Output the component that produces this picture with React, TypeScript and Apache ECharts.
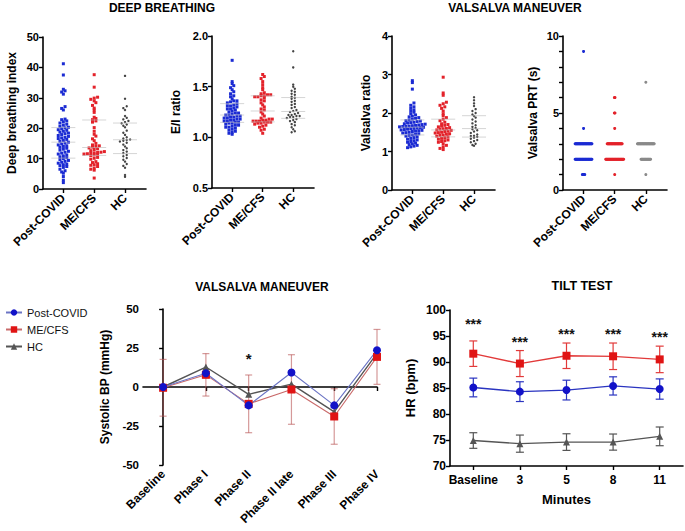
import React, { useEffect, useRef } from 'react';
import * as echarts from 'echarts';

const FONT = '"Liberation Sans", Arial, Helvetica, sans-serif';

// ---------- data ----------
const groups = ['Post-COVID', 'ME/CFS', 'HC'];

// Deep breathing index
const dbPost = [41.2, 37.5, 32.8, 32.3, 31.9, 31.2, 27.1, 26.5, 26.0, 23.0, 22.8, 22.4, 22.1, 21.7, 21.3, 21.0, 20.6, 20.3, 20.1, 19.8, 19.5, 19.3, 19.0, 18.7, 18.4, 18.2, 17.9, 17.6, 17.3, 17.0, 16.8, 16.6, 16.3, 16.0, 15.7, 15.4, 15.1, 14.8, 14.5, 14.2, 14.0, 13.7, 13.4, 13.1, 12.8, 12.4, 12.1, 11.8, 11.5, 11.2, 10.9, 10.6, 10.3, 10.0, 9.7, 9.4, 9.1, 8.8, 8.5, 8.2, 8.0, 7.7, 7.4, 7.1, 6.5, 6.0, 5.6, 5.2, 4.1, 2.9, 2.1];
const dbMe = [37.6, 33.5, 30.2, 29.9, 29.5, 29.0, 28.4, 27.5, 26.6, 26.0, 25.2, 23.6, 23.2, 22.8, 22.4, 22.0, 20.2, 19.0, 18.0, 17.4, 16.5, 15.9, 15.0, 14.5, 14.2, 14.0, 13.8, 13.5, 13.2, 13.0, 12.6, 12.3, 12.1, 12.0, 11.9, 11.8, 11.6, 11.5, 11.4, 11.2, 11.0, 10.4, 10.1, 9.8, 9.0, 8.7, 8.3, 8.0, 7.8, 7.4, 6.9, 6.5, 6.2, 3.6];
const dbHc = [37.2, 29.7, 27.2, 26.6, 26.0, 24.0, 23.4, 22.9, 22.4, 22.0, 21.6, 21.2, 20.8, 20.3, 19.2, 18.5, 17.8, 17.0, 16.6, 16.3, 16.1, 15.9, 15.6, 15.2, 14.6, 14.0, 13.4, 12.8, 12.3, 11.8, 11.2, 10.8, 10.2, 9.6, 9.0, 8.2, 7.6, 7.0, 4.6, 4.0];

// E/I ratio
const eiPost = [1.76, 1.55, 1.53, 1.51, 1.49, 1.47, 1.45, 1.43, 1.41, 1.40, 1.38, 1.36, 1.36, 1.35, 1.34, 1.33, 1.32, 1.31, 1.31, 1.30, 1.29, 1.28, 1.28, 1.27, 1.26, 1.25, 1.24, 1.24, 1.23, 1.22, 1.22, 1.21, 1.21, 1.20, 1.20, 1.19, 1.19, 1.18, 1.18, 1.17, 1.17, 1.16, 1.16, 1.15, 1.15, 1.14, 1.14, 1.13, 1.12, 1.12, 1.11, 1.10, 1.10, 1.09, 1.08, 1.07, 1.06, 1.05, 1.04, 1.03];
const eiMe = [1.62, 1.60, 1.58, 1.55, 1.52, 1.49, 1.47, 1.44, 1.43, 1.42, 1.42, 1.41, 1.41, 1.40, 1.40, 1.39, 1.37, 1.36, 1.34, 1.32, 1.30, 1.28, 1.27, 1.25, 1.23, 1.21, 1.19, 1.18, 1.18, 1.17, 1.17, 1.16, 1.16, 1.16, 1.15, 1.15, 1.15, 1.14, 1.14, 1.13, 1.12, 1.11, 1.10, 1.08, 1.07, 1.04];
const eiHc = [1.85, 1.69, 1.52, 1.50, 1.48, 1.46, 1.45, 1.43, 1.42, 1.40, 1.39, 1.38, 1.36, 1.35, 1.33, 1.32, 1.30, 1.29, 1.27, 1.26, 1.25, 1.24, 1.23, 1.22, 1.22, 1.21, 1.21, 1.20, 1.20, 1.19, 1.18, 1.17, 1.16, 1.15, 1.13, 1.12, 1.10, 1.08, 1.06, 1.05];

// Valsalva ratio
const vrPost = [2.84, 2.79, 2.62, 2.26, 2.20, 2.16, 2.12, 2.08, 2.05, 2.02, 1.98, 1.95, 1.92, 1.90, 1.88, 1.86, 1.84, 1.82, 1.80, 1.79, 1.78, 1.76, 1.75, 1.74, 1.72, 1.71, 1.70, 1.69, 1.68, 1.67, 1.66, 1.65, 1.65, 1.64, 1.63, 1.62, 1.61, 1.60, 1.59, 1.58, 1.57, 1.56, 1.55, 1.54, 1.53, 1.52, 1.50, 1.49, 1.48, 1.46, 1.45, 1.43, 1.42, 1.40, 1.38, 1.36, 1.34, 1.32, 1.30, 1.28, 1.26, 1.24, 1.22, 1.20, 1.18, 1.16, 1.14, 1.12, 1.10];
const vrMe = [2.93, 2.52, 2.46, 2.28, 2.24, 2.20, 2.16, 2.12, 2.05, 1.98, 1.93, 1.88, 1.84, 1.80, 1.76, 1.72, 1.70, 1.68, 1.66, 1.64, 1.62, 1.60, 1.59, 1.58, 1.56, 1.55, 1.53, 1.52, 1.50, 1.49, 1.48, 1.46, 1.45, 1.43, 1.42, 1.40, 1.38, 1.36, 1.34, 1.32, 1.30, 1.28, 1.26, 1.24, 1.20, 1.16, 1.12, 1.08, 1.05];
const vrHc = [2.41, 2.33, 2.25, 2.18, 2.10, 2.05, 2.00, 1.96, 1.92, 1.88, 1.83, 1.78, 1.73, 1.68, 1.64, 1.61, 1.58, 1.55, 1.52, 1.48, 1.44, 1.41, 1.40, 1.38, 1.36, 1.33, 1.30, 1.27, 1.24, 1.20, 1.17, 1.15];

// Valsalva PRT (s): frequency of each integer value
const prtLevels = [1, 2, 3, 4, 5, 6, 7, 8, 9];
const prtPostCounts = [5, 29, 29, 1, 0, 0, 0, 0, 1];
const prtMeCounts = [1, 31, 26, 1, 2, 2, 0, 0, 0];
const prtHcCounts = [1, 17, 29, 0, 0, 0, 1, 0, 0];

// Valsalva maneuver systolic BP (mmHg)
const bpPhases = ['Baseline', 'Phase I', 'Phase II', 'Phase II late', 'Phase III', 'Phase IV'];
const bpPost = [0, 8.8, -11.8, 9.3, -11.8, 23.6];
const bpMe = [-0.5, 7.8, -10.8, -1.6, -18.9, 19.3];
const bpHc = [0, 12.8, -4.7, 1.8, -16.0, 21.5];
const bpMeSd = [18.2, 13.6, 18.5, 22.3, 17.8, 17.6];
const bpStarPhase = [2];
const bpStarLevel = [20.4];

// Tilt test HR (bpm)
const tiltMinutes = ['Baseline', '3', '5', '8', '11'];
const tiltPost = [85.1, 84.3, 84.6, 85.4, 84.8];
const tiltPostErr = [1.8, 1.9, 1.9, 1.75, 1.95];
const tiltMe = [91.6, 89.7, 91.2, 91.1, 90.5];
const tiltMeErr = [2.45, 2.5, 2.45, 2.55, 2.55];
const tiltHc = [74.9, 74.3, 74.6, 74.6, 75.7];
const tiltHcErr = [1.5, 1.65, 1.6, 1.55, 1.8];
const tiltStarLevel = [97.8, 94.4, 96.0, 96.0, 95.3];

// ---------- helpers ----------
const BLUE = '#1b2bd3';
const RED = '#e3222a';
const HCDOT = '#444444';
const HCPRT = '#8a8a8a';

function expandCounts(levels: number[], counts: number[]) {
  const out: number[] = [];
  levels.forEach((l, i) => {
    for (let k = 0; k < counts[i]; k++) out.push(l);
  });
  return out;
}

function swarm(values: number[], center: number, bin: number, stepUnits: number) {
  const rows = new Map<number, number[]>();
  [...values].sort((a, b) => a - b).forEach((v) => {
    const k = Math.round(v / bin);
    if (!rows.has(k)) rows.set(k, []);
    rows.get(k)!.push(v);
  });
  const out: number[][] = [];
  rows.forEach((vals) => {
    const n = vals.length;
    vals.forEach((v, i) => out.push([center + (i - (n - 1) / 2) * stepUnits, v]));
  });
  return out;
}

function quantile(values: number[], p: number) {
  const s = [...values].sort((a, b) => a - b);
  const pos = (s.length - 1) * p;
  const lo = Math.floor(pos);
  const hi = Math.ceil(pos);
  return s[lo] + (s[hi] - s[lo]) * (pos - lo);
}

const XMIN = 0.34;
const XMAX = 3.68;

const axisLine = { show: true, lineStyle: { color: '#000', width: 1.6 } };
const tickStyle = { color: '#000', width: 1.4 };

export default function App() {
  const ref = useRef<HTMLDivElement>(null);

  useEffect(() => {
    if (!ref.current) return;
    const chart = echarts.init(ref.current, undefined, { renderer: 'svg' });

    const topPanels = [
      { left: 43, top: 37, width: 103, height: 152, min: 0, max: 50, interval: 10, name: 'Deep breathing index', nameGap: 25, data: [dbPost, dbMe, dbHc], bin: 1, step: 3.4, lines: true, fmt: (v: number) => String(v) },
      { left: 212, top: 36, width: 102, height: 152, min: 0.5, max: 2.0, interval: 0.5, name: 'E/I ratio', nameGap: 30, data: [eiPost, eiMe, eiHc], bin: 0.03, step: 3.2, lines: true, fmt: (v: number) => v.toFixed(1) },
      { left: 392, top: 36, width: 103, height: 154, min: 0, max: 4, interval: 1, name: 'Valsalva ratio', nameGap: 20, data: [vrPost, vrMe, vrHc], bin: 0.08, step: 3.2, lines: true, fmt: (v: number) => String(v) },
      { left: 563, top: 36, width: 104, height: 154, min: 0, max: 10, interval: 1, name: 'Valsalva PRT (s)', nameGap: 24, data: [expandCounts(prtLevels, prtPostCounts), expandCounts(prtLevels, prtMeCounts), expandCounts(prtLevels, prtHcCounts)], bin: 1, step: 0.6, lines: false, fmt: (v: number) => (v % 5 === 0 ? String(v) : '') },
    ];

    const grids: any[] = topPanels.map((p) => ({ left: p.left, top: p.top, width: p.width, height: p.height, containLabel: false }));
    grids.push({ left: 143, top: 309, width: 234, height: 156, containLabel: false });
    grids.push({ left: 450, top: 310, width: 233, height: 156, containLabel: false });

    const groupTicks = groups.map((_, i) => i + 1);
    const xAxes: any[] = topPanels.map((_, pi) => ({
      type: 'value', gridIndex: pi, min: XMIN, max: XMAX,
      axisLine,
      axisTick: { show: true, length: 4, lineStyle: tickStyle, customValues: groupTicks },
      axisLabel: { customValues: groupTicks, formatter: (v: number) => groups[Math.round(v) - 1] ?? '', rotate: 45, fontSize: 12, fontWeight: 'bold', color: '#000', fontFamily: FONT, margin: 7 },
      splitLine: { show: false },
    }));
    const phaseTicks = bpPhases.map((_, i) => i);
    xAxes.push({
      type: 'value', gridIndex: 4, min: -0.47, max: 5,
      axisLine,
      axisTick: { show: true, length: 4, lineStyle: tickStyle, customValues: phaseTicks },
      axisLabel: { customValues: phaseTicks, formatter: (v: number) => bpPhases[Math.round(v)] ?? '', rotate: 45, fontSize: 12, fontWeight: 'bold', color: '#000', fontFamily: FONT, margin: 7 },
      splitLine: { show: false },
    });
    xAxes.push({
      type: 'category', gridIndex: 5, data: tiltMinutes, boundaryGap: true,
      axisLine,
      axisTick: { show: true, length: 4, lineStyle: tickStyle, alignWithLabel: true, interval: 0 },
      axisLabel: { interval: 0, fontSize: 12, fontWeight: 'bold', color: '#000', fontFamily: FONT, margin: 8 },
      name: 'Minutes', nameLocation: 'middle', nameGap: 27,
      nameTextStyle: { fontSize: 13, fontWeight: 'bold', color: '#000', fontFamily: FONT },
    });

    const yAxes: any[] = topPanels.map((p, pi) => ({
      type: 'value', gridIndex: pi, min: p.min, max: p.max, interval: p.interval,
      axisLine,
      axisTick: { show: true, length: 4, lineStyle: tickStyle },
      axisLabel: { formatter: p.fmt, fontSize: 11, fontWeight: 'bold', color: '#000', fontFamily: FONT, margin: 4 },
      splitLine: { show: false },
      name: p.name, nameLocation: 'middle', nameGap: p.nameGap,
      nameTextStyle: { fontSize: 12, fontWeight: 'bold', color: '#000', fontFamily: FONT },
    }));
    yAxes.push({
      type: 'value', gridIndex: 4, min: -50, max: 50, interval: 25,
      axisLine,
      axisTick: { show: true, length: 4, lineStyle: tickStyle },
      axisLabel: { fontSize: 11.5, fontWeight: 'bold', color: '#000', fontFamily: FONT, margin: 4 },
      splitLine: { show: false },
      name: 'Systolic BP (mmHg)', nameLocation: 'middle', nameGap: 32,
      nameTextStyle: { fontSize: 12, fontWeight: 'bold', color: '#000', fontFamily: FONT },
    });
    yAxes.push({
      type: 'value', gridIndex: 5, min: 70, max: 100, interval: 5,
      axisLine,
      axisTick: { show: true, length: 4, lineStyle: tickStyle },
      axisLabel: { fontSize: 12, fontWeight: 'bold', color: '#000', fontFamily: FONT, margin: 4 },
      splitLine: { show: false },
      name: 'HR (bpm)', nameLocation: 'middle', nameGap: 33,
      nameTextStyle: { fontSize: 13, fontWeight: 'bold', color: '#000', fontFamily: FONT },
    });

    const series: any[] = [];
    const dotColors = [BLUE, RED, HCDOT];
    topPanels.forEach((p, pi) => {
      const pxPerUnit = p.width / (XMAX - XMIN);
      p.data.forEach((vals, gi) => {
        const color = pi === 3 && gi === 2 ? HCPRT : dotColors[gi];
        series.push({
          type: 'scatter', xAxisIndex: pi, yAxisIndex: pi, silent: true,
          symbol: pi < 3 && gi < 2 ? 'rect' : 'circle',
          symbolSize: pi < 3 && gi === 2 ? 2.4 : 3,
          itemStyle: { color, opacity: 1 },
          data: swarm(vals, gi + 1, p.bin, p.step / pxPerUnit),
        });
      });
      if (p.lines) {
        const lineData: number[][] = [];
        p.data.forEach((vals, gi) => {
          [0.25, 0.5, 0.75].forEach((q) => lineData.push([gi + 1, quantile(vals, q)]));
        });
        series.push({
          type: 'custom', xAxisIndex: pi, yAxisIndex: pi, silent: true, z: 5,
          data: lineData,
          renderItem: (_: any, api: any) => {
            const c = api.coord([api.value(0), api.value(1)]);
            return { type: 'line', shape: { x1: c[0] - 12, y1: c[1], x2: c[0] + 12, y2: c[1] }, style: { stroke: 'rgba(185,185,185,0.6)', lineWidth: 1 } };
          },
        });
      }
    });

    const errorBars = (xi: number, data: number[][], color: string, cap: number, width: number) => ({
      type: 'custom', xAxisIndex: xi, yAxisIndex: xi, silent: true,
      data,
      renderItem: (_: any, api: any) => {
        const x = api.value(0);
        const a = api.coord([x, api.value(2)]);
        const b = api.coord([x, api.value(1)]);
        const st = { stroke: color, lineWidth: width };
        return {
          type: 'group',
          children: [
            { type: 'line', shape: { x1: a[0], y1: a[1], x2: b[0], y2: b[1] }, style: st },
            { type: 'line', shape: { x1: a[0] - cap, y1: a[1], x2: a[0] + cap, y2: a[1] }, style: st },
            { type: 'line', shape: { x1: b[0] - cap, y1: b[1], x2: b[0] + cap, y2: b[1] }, style: st },
          ],
        };
      },
    });

    const starSeries = (xi: number, data: number[][], text: string, size: number) => ({
      type: 'custom', xAxisIndex: xi, yAxisIndex: xi, silent: true, z: 10,
      data,
      renderItem: (_: any, api: any) => {
        const c = api.coord([api.value(0), api.value(1)]);
        return {
          type: 'text', x: c[0], y: c[1] + 3,
          style: { text, align: 'center', verticalAlign: 'middle', textAlign: 'center', textVerticalAlign: 'middle', fontSize: size, fontWeight: 'bold', fontFamily: FONT, fill: '#111' },
        };
      },
    });

    // Valsalva BP panel
    series.push(errorBars(4, bpPhases.map((_, i) => [i, bpMe[i] - bpMeSd[i], bpMe[i] + bpMeSd[i]]), 'rgba(185,85,85,0.6)', 3.5, 1.2));
    series.push({
      name: 'HC', type: 'line', xAxisIndex: 4, yAxisIndex: 4, silent: true,
      data: bpHc.map((v, i) => [i, v]), symbol: 'triangle', symbolSize: 7,
      itemStyle: { color: '#555' }, lineStyle: { color: '#555', width: 1.4 },
    });
    series.push({
      name: 'ME/CFS', type: 'line', xAxisIndex: 4, yAxisIndex: 4, silent: true,
      data: bpMe.map((v, i) => [i, v]), symbol: 'rect', symbolSize: 8,
      itemStyle: { color: '#e01414' }, lineStyle: { color: '#c96a6a', width: 1.1 },
    });
    series.push({
      name: 'Post-COVID', type: 'line', xAxisIndex: 4, yAxisIndex: 4, silent: true,
      data: bpPost.map((v, i) => [i, v]), symbol: 'circle', symbolSize: 8,
      itemStyle: { color: '#1212c8' }, lineStyle: { color: '#6b74c4', width: 1.1 },
    });
    series.push(starSeries(4, bpStarPhase.map((ph, i) => [ph, bpStarLevel[i]]), '*', 15));

    // Tilt test panel
    series.push(errorBars(5, tiltMinutes.map((_, i) => [i, tiltMe[i] - tiltMeErr[i], tiltMe[i] + tiltMeErr[i]]), '#e23a3a', 4, 1.2));
    series.push(errorBars(5, tiltMinutes.map((_, i) => [i, tiltPost[i] - tiltPostErr[i], tiltPost[i] + tiltPostErr[i]]), '#2a34c0', 4, 1.2));
    series.push(errorBars(5, tiltMinutes.map((_, i) => [i, tiltHc[i] - tiltHcErr[i], tiltHc[i] + tiltHcErr[i]]), '#555', 4, 1.2));
    series.push({
      name: 'ME/CFS', type: 'line', xAxisIndex: 5, yAxisIndex: 5, silent: true,
      data: tiltMe, symbol: 'rect', symbolSize: 8,
      itemStyle: { color: '#e01414' }, lineStyle: { color: '#e23a3a', width: 1.3 },
    });
    series.push({
      name: 'Post-COVID', type: 'line', xAxisIndex: 5, yAxisIndex: 5, silent: true,
      data: tiltPost, symbol: 'circle', symbolSize: 8,
      itemStyle: { color: '#1212c8' }, lineStyle: { color: '#2a34c0', width: 1.3 },
    });
    series.push({
      name: 'HC', type: 'line', xAxisIndex: 5, yAxisIndex: 5, silent: true,
      data: tiltHc, symbol: 'triangle', symbolSize: 7,
      itemStyle: { color: '#555' }, lineStyle: { color: '#555', width: 1.3 },
    });
    series.push(starSeries(5, tiltStarLevel.map((lv, i) => [i, lv]), '***', 14));

    const title = (text: string, x: number, y: number, size: number) => ({
      type: 'text', x, y, silent: true,
      style: { text, align: 'center', verticalAlign: 'middle', textAlign: 'center', textVerticalAlign: 'middle', fontSize: size, fontWeight: 'bold', fontFamily: FONT, fill: '#000' },
    });

    chart.setOption({
      animation: false,
      backgroundColor: '#fff',
      grid: grids,
      xAxis: xAxes,
      yAxis: yAxes,
      series,
      legend: {
        data: groups, orient: 'vertical', left: 0, top: 302,
        itemWidth: 16, itemHeight: 8, itemGap: 6, selectedMode: false,
        textStyle: { fontSize: 11, color: '#111', fontFamily: FONT },
      },
      graphic: [
        title('DEEP BREATHING', 162, 8, 12),
        title('VALSALVA MANEUVER', 515, 8, 12),
        title('VALSALVA MANEUVER', 262, 287, 12),
        title('TILT TEST', 582, 286, 12.5),
      ],
    });

    return () => chart.dispose();
  }, []);

  return <div ref={ref} style={{ position: 'fixed', left: 0, top: 0, width: 685, height: 531, background: '#fff' }} />;
}
